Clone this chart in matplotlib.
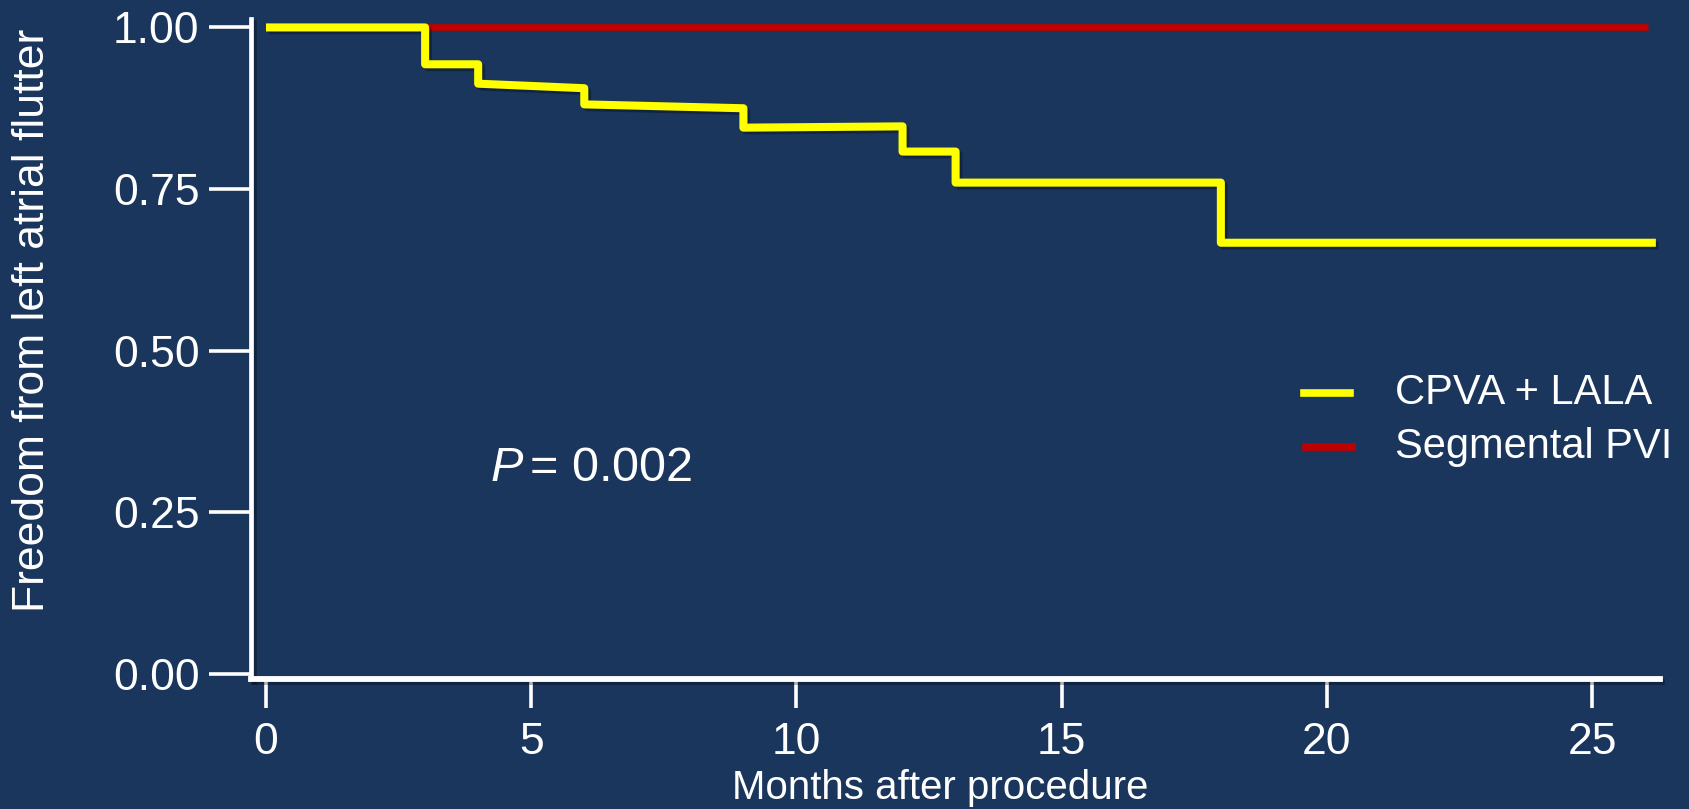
import matplotlib
matplotlib.use("Agg")
import matplotlib.pyplot as plt
import matplotlib.patheffects as pe
from matplotlib import font_manager
from matplotlib.lines import Line2D

# ==== Data ====
cpva_months = [0, 3, 3, 4, 4, 6, 6, 9, 9, 12, 12, 13, 13, 18, 18, 26.2]
cpva_surv = [1.0, 1.0, 0.943, 0.943, 0.913, 0.906, 0.881, 0.875, 0.845, 0.847,
             0.808, 0.808, 0.760, 0.760, 0.667, 0.667]
pvi_months = [0, 26.05]
pvi_surv = [1.0, 1.0]

x_ticks = [0, 5, 10, 15, 20, 25]
y_ticks = [0.0, 0.25, 0.5, 0.75, 1.0]
series_labels = ["CPVA + LALA", "Segmental PVI"]
p_text = "= 0.002"

# ==== Style ====
BG = "#1a365d"
YELLOW = "#ffff00"
RED = "#c00000"
WHITE = "white"

installed = {f.name for f in font_manager.fontManager.ttflist}
NARROW = "Liberation Sans Narrow" if "Liberation Sans Narrow" in installed else "Liberation Sans"
REGULAR = "Liberation Sans"

plt.rcParams["font.family"] = [REGULAR, "DejaVu Sans"]
plt.rcParams["mathtext.fontset"] = "custom"
plt.rcParams["mathtext.it"] = REGULAR + ":italic"
plt.rcParams["mathtext.rm"] = REGULAR

shadow = [pe.SimpleLineShadow(offset=(2, -2), shadow_color="black", alpha=0.3), pe.Normal()]

fig = plt.figure(figsize=(16.9, 8.09), dpi=100, facecolor=BG)
ax = fig.add_axes([0.1485, 0.1607, 0.982 - 0.1485, 0.976 - 0.1607])
ax.set_facecolor(BG)

ax.plot(pvi_months, pvi_surv, color=RED, lw=4.8, solid_capstyle="butt", zorder=3)
ax.plot(cpva_months, cpva_surv, color=YELLOW, lw=5.8, solid_joinstyle="round",
        solid_capstyle="butt", path_effects=shadow, zorder=4)

ax.set_xlim(-0.283, 26.27)
ax.set_ylim(-0.0077, 1.0124)

for side in ["top", "right"]:
    ax.spines[side].set_visible(False)
for side in ["left", "bottom"]:
    ax.spines[side].set_color(WHITE)
    ax.spines[side].set_path_effects(shadow)
ax.spines["left"].set_linewidth(3.4)
ax.spines["bottom"].set_linewidth(4.2)

ax.set_xticks(x_ticks)
ax.set_yticks(y_ticks)
ax.set_yticklabels([f"{v:.2f}" for v in y_ticks])
ax.tick_params(axis="x", direction="out", length=21, width=2.6, pad=10, colors=WHITE,
               labelsize=32)
ax.tick_params(axis="y", direction="out", length=30, width=2.6, pad=7, colors=WHITE,
               labelsize=32)
for lab in ax.get_xticklabels() + ax.get_yticklabels():
    lab.set_fontfamily(NARROW)

ax.set_xlabel("Months after procedure", color=WHITE, fontsize=29, fontfamily=NARROW)
ax.xaxis.set_label_coords(0.489, -0.166)
ax.xaxis.label.set_va("center")
ax.set_ylabel("Freedom from left atrial flutter", color=WHITE, fontsize=32)
ax.yaxis.set_label_coords(-0.155, 0.544)
ax.yaxis.label.set_va("center")

ax.text(4.22, 0.298, r"$\mathit{P}\,$" + p_text, color=WHITE, fontsize=35,
        ha="left", va="baseline")

# legend drawn by hand to match spacing
legend_rows = [(YELLOW, 0.514, 1304), (RED, 0.4475, 1306)]
for (color, yf, x0), label in zip(legend_rows, series_labels):
    fig.add_artist(Line2D([x0 / 1690, (x0 + 46) / 1690], [yf, yf], color=color, lw=5.5,
                          transform=fig.transFigure))
    fig.text(1395 / 1690, yf, label, color=WHITE, fontsize=30, va="center", ha="left")

fig.savefig("out.png", dpi=100, facecolor=BG)
